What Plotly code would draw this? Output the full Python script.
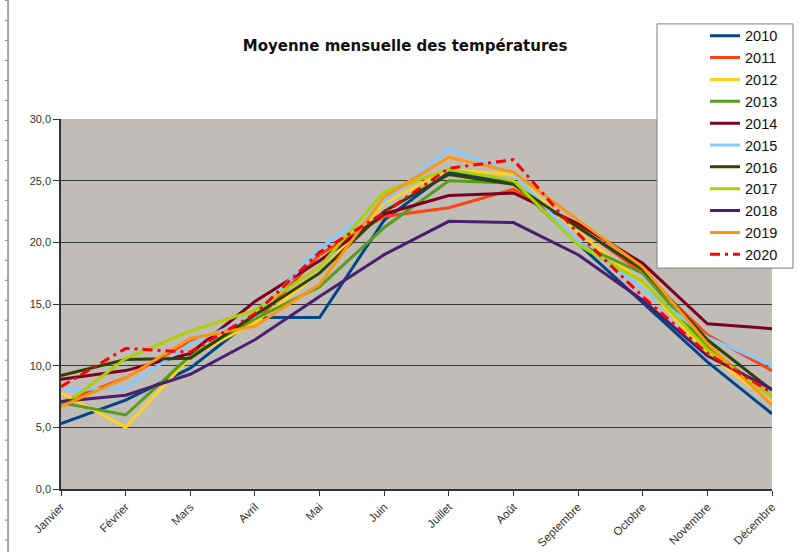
import plotly.graph_objects as go

months = ["Janvier", "Février", "Mars", "Avril", "Mai", "Juin",
          "Juillet", "Août", "Septembre", "Octobre", "Novembre", "Décembre"]

t2010 = [5.3, 7.2, 9.8, 13.9, 13.9, 21.8, 25.7, 24.9, 19.9, 15.1, 10.3, 6.1]
t2011 = [7.0, 9.0, 12.0, 13.5, 19.0, 22.1, 22.8, 24.3, 21.3, 17.5, 12.5, 9.6]
t2012 = [7.8, 5.0, 10.7, 13.5, 17.5, 23.2, 25.9, 25.5, 20.8, 16.7, 11.0, 7.0]
t2013 = [7.0, 6.0, 10.8, 13.8, 16.4, 21.2, 25.0, 24.8, 19.9, 17.5, 11.5, 7.5]
t2014 = [8.9, 9.6, 11.0, 15.2, 18.5, 22.3, 23.8, 24.0, 21.5, 18.3, 13.4, 13.0]
t2015 = [8.0, 8.2, 11.8, 14.0, 19.5, 23.3, 27.6, 25.6, 20.0, 16.3, 12.3, 10.0]
t2016 = [9.2, 10.5, 10.6, 14.1, 17.5, 22.5, 25.5, 24.7, 21.2, 17.8, 12.1, 8.0]
t2017 = [6.6, 10.6, 12.8, 14.5, 18.0, 24.1, 25.9, 25.0, 19.8, 16.8, 11.3, 7.5]
t2018 = [7.1, 7.6, 9.3, 12.1, 15.6, 19.0, 21.7, 21.6, 19.0, 15.3, 10.8, 8.1]
t2019 = [6.7, 9.0, 12.2, 13.2, 16.6, 23.7, 26.9, 25.7, 21.8, 18.0, 11.8, 6.8]
t2020 = [8.3, 11.4, 11.1, 14.2, 19.2, 22.4, 26.0, 26.7, 20.7, 15.6, 11.0, 7.8]

series = [
    ("2010", t2010, "#004586", "solid"),
    ("2011", t2011, "#ff420e", "solid"),
    ("2012", t2012, "#ffd320", "solid"),
    ("2013", t2013, "#579d1c", "solid"),
    ("2014", t2014, "#7e0021", "solid"),
    ("2015", t2015, "#83caff", "solid"),
    ("2016", t2016, "#314004", "solid"),
    ("2017", t2017, "#aecf00", "solid"),
    ("2018", t2018, "#4b1f6f", "solid"),
    ("2019", t2019, "#ff950e", "solid"),
    ("2020", t2020, "#ff0000", "10px,5px,3px,5px"),
]

fig = go.Figure()
for name, vals, color, dash in series:
    fig.add_trace(go.Scatter(
        x=months, y=vals, name=name, mode="lines",
        line=dict(color=color, width=3, dash=dash),
    ))

# ruler strip along the left edge of the window
shapes = [dict(type="line", xref="paper", yref="paper", x0=-0.0745, x1=-0.0745,
               y0=-0.17, y1=1.33, line=dict(color="#555555", width=1))]
for i in range(28):
    yy = 1.32 - i * 0.054
    shapes.append(dict(type="line", xref="paper", yref="paper",
                       x0=-0.079, x1=-0.0745, y0=yy, y1=yy,
                       line=dict(color="#888888", width=1)))

# framed white box behind the legend
shapes.append(dict(type="rect", xref="paper", yref="paper", layer="above",
                   x0=0.8383, x1=1.0295, y0=0.597, y1=1.257,
                   fillcolor="white", line=dict(color="#7f7f7f", width=1)))

fig.update_layout(
    width=799, height=552,
    margin=dict(l=61, r=27, t=119, b=63),
    paper_bgcolor="white",
    plot_bgcolor="#c0bcb7",
    separators=", ",
    font=dict(family="Liberation Sans, Arial, sans-serif", color="#222222"),
    title=dict(text="<b>Moyenne mensuelle des températures</b>",
               x=0.507, xanchor="center", y=1 - 46 / 552, yanchor="middle",
               font=dict(size=15, family="DejaVu Sans, sans-serif", color="#111111")),
    showlegend=True,
    legend=dict(x=0.9058, y=1.268, xanchor="left", yanchor="top",
                bgcolor="rgba(0,0,0,0)", borderwidth=0,
                font=dict(size=14.5, color="#111111"), tracegroupgap=0),
    shapes=shapes,
    xaxis=dict(type="category", range=[0, 11], showgrid=False, automargin=False,
               tickangle=-45, tickfont=dict(size=11.5, color="#333333"),
               ticks="outside", ticklen=5, tickcolor="#333333",
               showline=True, linecolor="#333333", linewidth=1.5,
               zeroline=False),
    yaxis=dict(range=[0, 30], dtick=5, tickformat=".1f", automargin=False,
               gridcolor="#3a3a3a", gridwidth=1.3,
               tickfont=dict(size=11, color="#333333"),
               ticks="outside", ticklen=6, tickcolor="#333333",
               showline=True, linecolor="#333333", linewidth=1.5,
               zeroline=False),
)

fig.write_html("out.html")
